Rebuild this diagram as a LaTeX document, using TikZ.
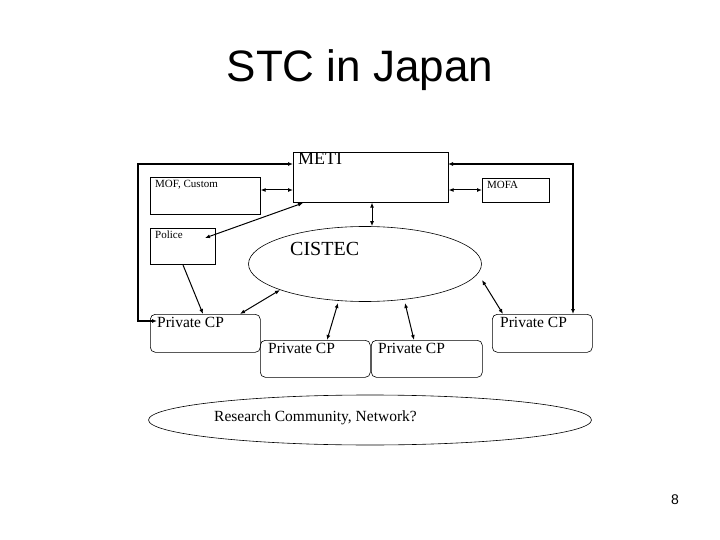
\documentclass[tikz,border=0pt]{standalone}
\usepackage{fontspec}
\setmainfont{Liberation Serif}
\newfontfamily\sansf{Liberation Sans}
\usetikzlibrary{shapes.geometric,arrows.meta}
\begin{document}
\begin{tikzpicture}[x=1pt,y=-1pt,
  box/.style={draw,line width=0.6pt,anchor=north west,inner sep=0},
  lbl/.style={anchor=north west,inner sep=0,font=\fontsize{11}{12}\selectfont},
  cp/.style={lbl,font=\fontsize{15.5}{17}\selectfont},
  arr/.style={line width=1pt,{Latex[length=5pt,width=4pt]}-{Latex[length=5pt,width=4pt]}},
  arr1/.style={line width=1pt,-{Latex[length=5pt,width=4pt]}}]
\useasboundingbox (0,0) rectangle (720,540);
\node[font=\sansf\fontsize{44}{48}\selectfont] (title) at (360,70) {STC in Japan};
\node[font=\sansf\fontsize{14}{16}\selectfont] (pg) at (675,500) {8};
% boxes
\node[box,minimum width=155pt,minimum height=50pt] (meti) at (293,152) {};
\node[lbl,font=\fontsize{18}{19}\selectfont] (metit) at (298,153) {METI};
\node[box,minimum width=110pt,minimum height=37pt] (mof) at (150,177) {};
\node[lbl] (moft) at (155,180) {MOF, Custom};
\node[box,minimum width=67pt,minimum height=24pt] (mofa) at (482,178) {};
\node[lbl] (mofat) at (487,181) {MOFA};
\node[box,minimum width=65pt,minimum height=36pt] (pol) at (150,228) {};
\node[lbl] (polt) at (155,231) {Police};
\node[draw,line width=0.6pt,ellipse,minimum width=233pt,minimum height=75pt] (cis) at (365,264) {};
\node[lbl,font=\fontsize{20}{21}\selectfont] (cist) at (290,242) {CISTEC};
\node[box,rounded corners=5pt,minimum width=110pt,minimum height=38pt] (p1) at (150,314) {};
\node[cp] (p1t) at (157,317) {Private CP};
\node[box,rounded corners=5pt,minimum width=110pt,minimum height=37pt] (p2) at (260,340) {};
\node[cp] (p2t) at (268,343) {Private CP};
\node[box,rounded corners=5pt,minimum width=111pt,minimum height=37pt] (p3) at (371,340) {};
\node[cp] (p3t) at (378,343) {Private CP};
\node[box,rounded corners=5pt,minimum width=100pt,minimum height=38pt] (p4) at (492,314) {};
\node[cp] (p4t) at (500,317) {Private CP};
\node[draw,line width=0.6pt,ellipse,minimum width=443pt,minimum height=50pt] (res) at (370,420) {};
\node[cp] (rest) at (214,411) {Research Community, Network?};
% connectors
\coordinate (a1) at (293,164); \coordinate (a2) at (157,321);
\draw[arr,line width=1.6pt] (a1) -- (138,164) -- (138,321) -- (a2);
\coordinate (b1) at (448,164); \coordinate (b2) at (573,314);
\draw[arr,line width=1.6pt] (b1) -- (573,164) -- (b2);
\draw[arr] (mof.east |- 0,190) -- (meti.west |- 0,190);
\draw[arr] (meti.east |- 0,190) -- (mofa.west |- 0,190);
\coordinate (c1) at (303,203); \coordinate (c2) at (205,238);
\draw[arr] (c1) -- (c2);
\coordinate (d1) at (183,265); \coordinate (d2) at (203,314);
\draw[arr1] (d1) -- (d2);
\draw[arr] (meti.south -| 372,0) -- (cis.north -| 372,0);
\coordinate (e1) at (240,314); \coordinate (e2) at (280,290);
\draw[arr] (e1) -- (e2);
\coordinate (f1) at (338,303); \coordinate (f2) at (327,340);
\draw[arr] (f1) -- (f2);
\coordinate (g1) at (405,303); \coordinate (g2) at (414,340);
\draw[arr] (g1) -- (g2);
\coordinate (h1) at (482,280); \coordinate (h2) at (503,314);
\draw[arr] (h1) -- (h2);
\end{tikzpicture}
\end{document}
